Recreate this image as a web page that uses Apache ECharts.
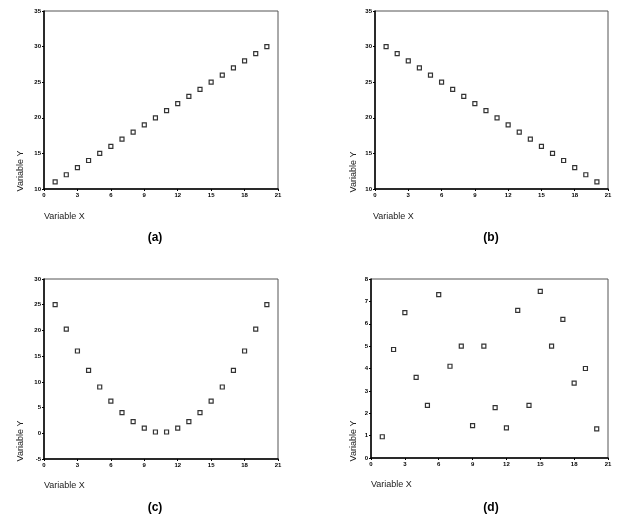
<!DOCTYPE html>
<html>
<head>
<meta charset="utf-8">
<script src="https://cdn.jsdelivr.net/npm/echarts@6/dist/echarts.min.js"></script>
<style>
  html, body { margin: 0; padding: 0; background: #fff; }
  #chart { width: 638px; height: 522px; }
</style>
</head>
<body>
<div id="chart"></div>
<script>
// data
const xValues = [1, 2, 3, 4, 5, 6, 7, 8, 9, 10, 11, 12, 13, 14, 15, 16, 17, 18, 19, 20]
const yA = [11, 12, 13, 14, 15, 16, 17, 18, 19, 20, 21, 22, 23, 24, 25, 26, 27, 28, 29, 30]
const yB = [30, 29, 28, 27, 26, 25, 24, 23, 22, 21, 20, 19, 18, 17, 16, 15, 14, 13, 12, 11]
const yC = [25, 20.25, 16, 12.25, 9, 6.25, 4, 2.25, 1, 0.25, 0.25, 1, 2.25, 4, 6.25, 9, 12.25, 16, 20.25, 25]
const yD = [0.95, 4.85, 6.5, 3.6, 2.35, 7.3, 4.1, 5, 1.45, 5, 2.25, 1.35, 6.6, 2.35, 7.45, 5, 6.2, 3.35, 4, 1.3]
const panelLabels = ['(a)', '(b)', '(c)', '(d)']
const yRanges = [[10, 35, 5], [10, 35, 5], [-5, 30, 5], [0, 8, 1]]

const chart = echarts.init(document.getElementById('chart'))

const grids = [
  { left: 44, top: 11, width: 234, height: 178 },
  { left: 375, top: 11, width: 233, height: 178 },
  { left: 44, top: 279, width: 234, height: 180 },
  { left: 371, top: 279, width: 237, height: 179 }
]

const tickLabel = { fontSize: 6, fontWeight: 'bold', color: '#000', fontFamily: 'Liberation Sans' }

const toPoints = ys => xValues.map((x, i) => [x, ys[i]])
const seriesData = [yA, yB, yC, yD].map(toPoints)

const option = {
  animation: false,
  backgroundColor: '#fff',
  grid: grids.map(g => ({ ...g, show: true, borderColor: '#555', borderWidth: 1, backgroundColor: 'transparent' })),
  xAxis: grids.map((g, i) => ({
    type: 'value',
    gridIndex: i,
    min: 0,
    max: 21,
    interval: 3,
    splitLine: { show: false },
    axisLine: { onZero: false, lineStyle: { color: '#000', width: 1.5 } },
    axisTick: { length: 2, lineStyle: { color: '#000' } },
    axisLabel: { ...tickLabel, margin: 3 }
  })),
  yAxis: yRanges.map((r, i) => ({
    type: 'value',
    gridIndex: i,
    min: r[0],
    max: r[1],
    interval: r[2],
    splitLine: { show: false },
    axisLine: { show: true, onZero: false, lineStyle: { color: '#000', width: 1.5 } },
    axisTick: { show: true, length: 2, lineStyle: { color: '#000' } },
    axisLabel: { ...tickLabel, margin: 3 }
  })),
  series: seriesData.map((d, i) => ({
    type: 'scatter',
    xAxisIndex: i,
    yAxisIndex: i,
    data: d,
    symbol: 'rect',
    symbolSize: 4,
    itemStyle: { color: '#fff', borderColor: '#000', borderWidth: 1.2 }
  })),
  graphic: []
}

// axis titles and panel letters
const xTitlePos = [[44, 217], [373, 217], [44, 486], [371, 485]]
const yTitlePos = [[21, 171], [354, 172], [21, 441], [354, 441]]
const letterPos = [[155, 238], [491, 238], [155, 508], [491, 508]]

xTitlePos.forEach(p => {
  option.graphic.push({
    type: 'text', x: p[0], y: p[1],
    style: { text: 'Variable X', fontSize: 9, fontFamily: 'Liberation Sans', fill: '#222', align: 'left', verticalAlign: 'middle' }
  })
})
yTitlePos.forEach(p => {
  option.graphic.push({
    type: 'text', x: p[0], y: p[1], rotation: Math.PI / 2,
    style: { text: 'Variable Y', fontSize: 9, fontFamily: 'Liberation Sans', fill: '#222', align: 'center', verticalAlign: 'middle' }
  })
})
letterPos.forEach((p, i) => {
  option.graphic.push({
    type: 'text', x: p[0], y: p[1],
    style: { text: panelLabels[i], fontSize: 12, fontWeight: 'bold', fontFamily: 'Liberation Sans', fill: '#000', align: 'center', verticalAlign: 'middle' }
  })
})

chart.setOption(option)
</script>
</body>
</html>
